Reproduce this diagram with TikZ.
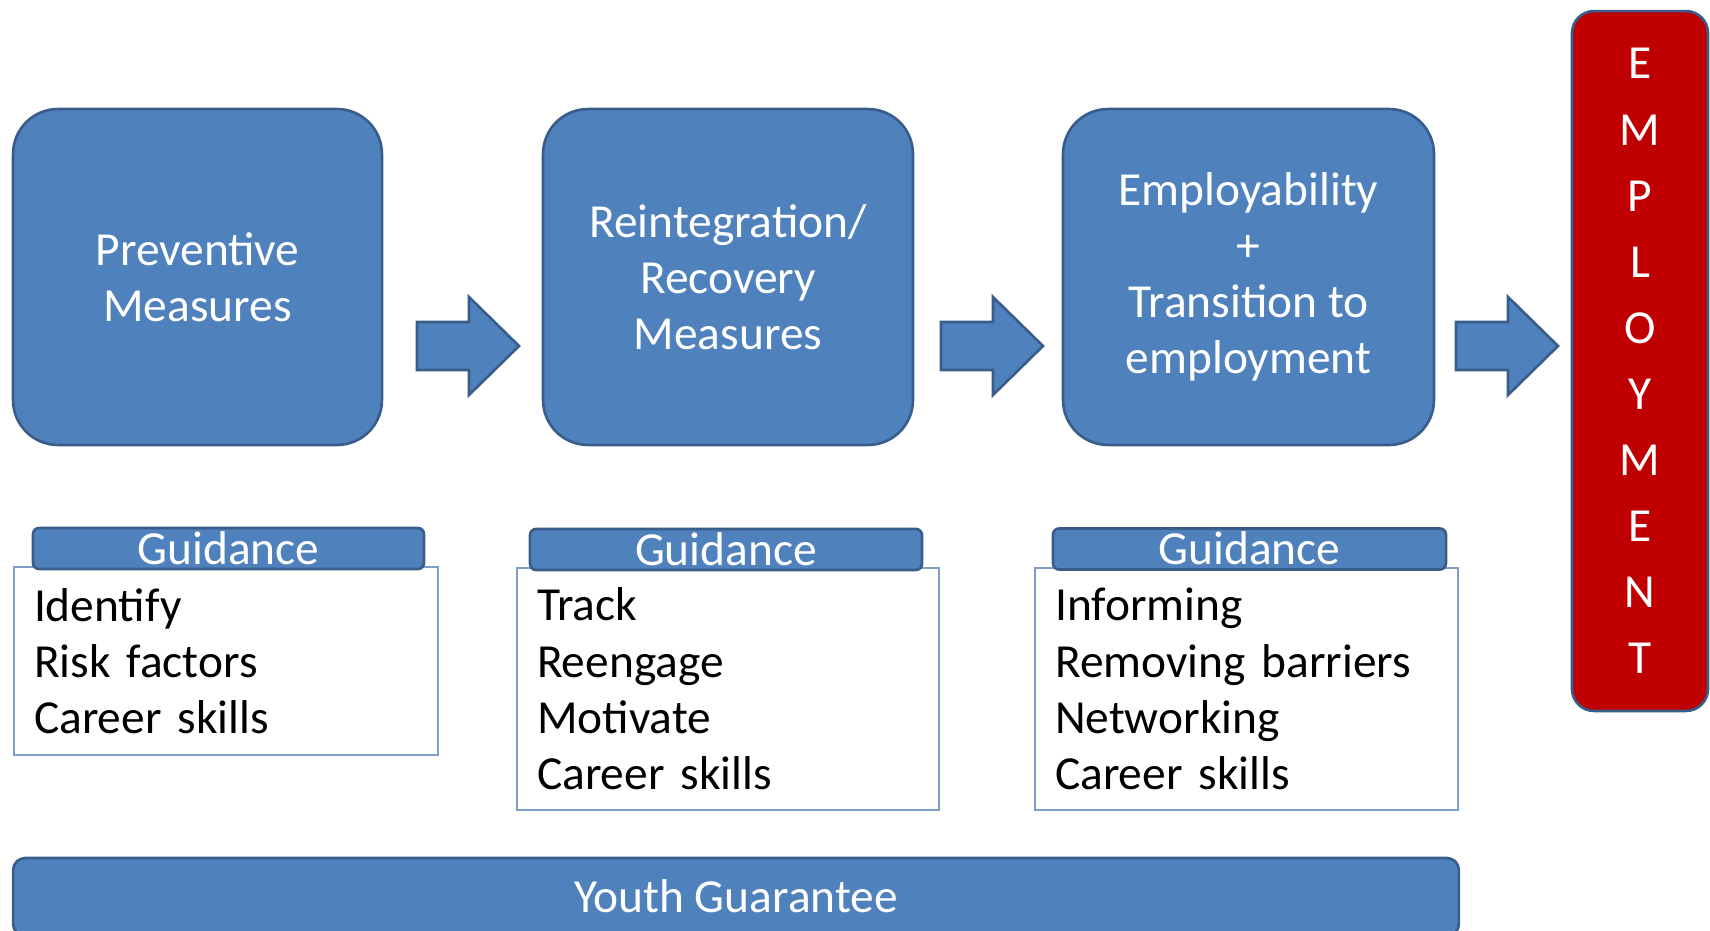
\documentclass[tikz,border=0pt]{standalone}
\usepackage{fontspec}
\setmainfont{Carlito}
\usepackage{tikz}

\definecolor{boxblue}{HTML}{4F81BD}
\definecolor{edgeblue}{HTML}{385D8A}
\definecolor{empred}{HTML}{C00000}
\definecolor{listedge}{HTML}{7F9FCB}

\tikzset{
  measure/.style={draw=edgeblue, line width=1.5pt, fill=boxblue, rounded corners=0.9cm,
    text=white, align=center, minimum height=6.72cm, font=\fontsize{27}{32}\selectfont},
  blockarrow/.style={draw=edgeblue, line width=1.5pt, fill=boxblue, line join=miter},
  guidehead/.style={draw=edgeblue, line width=1.5pt, fill=boxblue, rounded corners=0.12cm,
    text=white, minimum height=0.82cm, inner sep=0pt, text height=0.62cm, text depth=0pt,
    font=\fontsize{27}{32}\selectfont},
  guidelist/.style={draw=listedge, line width=0.8pt, fill=white, align=left, inner xsep=0.4cm,
    font=\fontsize{27}{32}\selectfont},
}

\begin{document}
\begin{tikzpicture}[x=0.02cm,y=-0.02cm]
\clip (0,0) rectangle (1710,930);
\useasboundingbox (0,0) rectangle (1710,930);

% measures
\node[measure, minimum width=7.38cm] (pm) at (197.5,277) {Preventive\\Measures};
\node[measure, minimum width=7.40cm] (rm) at (728,277) {Reintegration/\\Recovery\\Measures};
\node[measure, minimum width=7.42cm] (et) at (1248.5,277) {Employability\\+\\Transition to\\employment};

% employment
\node[draw=edgeblue, line width=1.5pt, fill=empred, rounded corners=0.44cm, text=white,
  align=center, minimum width=2.72cm, minimum height=14cm, font=\fontsize{27}{37.6}\selectfont]
  (emp) at (1640,361) {E\\M\\P\\L\\O\\Y\\M\\E\\N\\T};

% arrows
\draw[blockarrow] (417,322) -- ++(52,0) -- ++(0,-25) -- ++(50,49) -- ++(-50,49) -- ++(0,-25) -- ++(-52,0) -- cycle;
\draw[blockarrow] (941,322) -- ++(52,0) -- ++(0,-25) -- ++(50,49) -- ++(-50,49) -- ++(0,-25) -- ++(-52,0) -- cycle;
\draw[blockarrow] (1456,322) -- ++(52,0) -- ++(0,-25) -- ++(50,49) -- ++(-50,49) -- ++(0,-25) -- ++(-52,0) -- cycle;

% guidance lists
\node[guidelist, minimum width=8.48cm, minimum height=3.76cm, text width=7.68cm] (l1) at (226,661)
  {Identify\\Risk factors\\Career skills};
\node[guidelist, minimum width=8.44cm, minimum height=4.84cm, text width=7.64cm] (l2) at (728,689)
  {Track\\Reengage\\Motivate\\Career skills};
\node[guidelist, minimum width=8.46cm, minimum height=4.84cm, text width=7.66cm] (l3) at (1246.5,689)
  {Informing\\Removing barriers\\Networking\\Career skills};

\node[guidehead, minimum width=7.82cm] (g1) at (228.5,548.5) {Guidance};
\node[guidehead, minimum width=7.84cm] (g2) at (726,549.5) {Guidance};
\node[guidehead, minimum width=7.86cm] (g3) at (1249.5,549) {Guidance};

% youth guarantee
\node[guidehead, rounded corners=0.24cm, minimum width=28.92cm, minimum height=1.56cm]
  (yg) at (736,897) {Youth Guarantee};

\end{tikzpicture}
\end{document}
